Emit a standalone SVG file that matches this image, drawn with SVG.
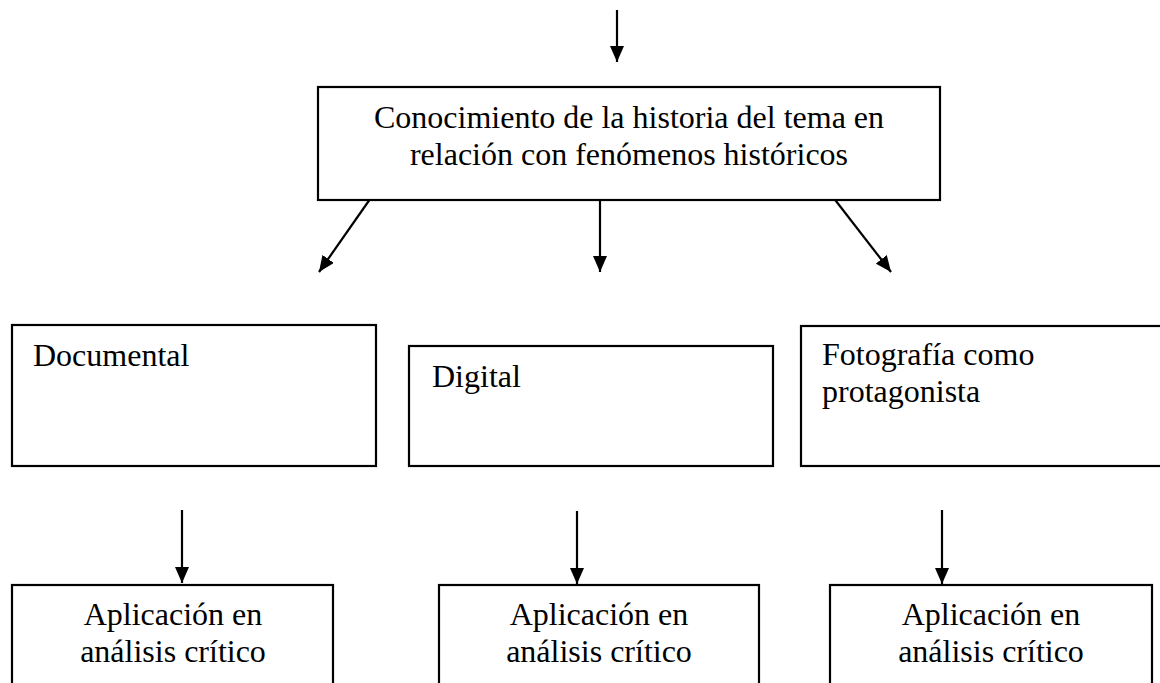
<svg xmlns="http://www.w3.org/2000/svg" width="1160" height="683" viewBox="0 0 1160 683">
<defs>
<style>
.box{fill:#fff;stroke:#000;stroke-width:2.2}
.t{font-family:"Liberation Serif","Times New Roman",serif;font-size:32px;fill:#000}
.c{text-anchor:middle}
.ln{stroke:#000;stroke-width:2.2;fill:none}
</style>
<marker id="ah" viewBox="0 0 16 14" refX="16" refY="7" markerWidth="16" markerHeight="14" markerUnits="userSpaceOnUse" orient="auto">
<path d="M0,0 L16,7 L0,14 Z" fill="#000"/>
</marker>
</defs>
<rect width="1160" height="683" fill="#fff"/>
<g id="connectors">
<line class="ln" x1="617" y1="10" x2="617" y2="62" marker-end="url(#ah)"/>
<line class="ln" x1="375" y1="192" x2="319" y2="272" marker-end="url(#ah)"/>
<line class="ln" x1="600" y1="192" x2="600" y2="272" marker-end="url(#ah)"/>
<line class="ln" x1="829" y1="192" x2="891" y2="272" marker-end="url(#ah)"/>
<line class="ln" x1="182" y1="510" x2="182" y2="583" marker-end="url(#ah)"/>
<line class="ln" x1="577" y1="511" x2="577" y2="584" marker-end="url(#ah)"/>
<line class="ln" x1="942" y1="510" x2="942" y2="584" marker-end="url(#ah)"/>
</g>
<g id="top">
<rect class="box" x="318" y="87" width="622" height="113"/>
<text class="t c" x="629" y="128">Conocimiento de la historia del tema en</text>
<text class="t c" x="629" y="165">relación con fenómenos históricos</text>
</g>
<g id="documental">
<rect class="box" x="12" y="325" width="364" height="141"/>
<text class="t" x="33" y="366">Documental</text>
</g>
<g id="digital">
<rect class="box" x="409" y="346" width="364" height="120"/>
<text class="t" x="432" y="387">Digital</text>
</g>
<g id="fotografia">
<rect class="box" x="801" y="326" width="370" height="140"/>
<text class="t" x="822" y="365">Fotografía como</text>
<text class="t" x="822" y="402">protagonista</text>
</g>
<g id="aplic1">
<rect class="box" x="12" y="585" width="321" height="110"/>
<text class="t c" x="173" y="625">Aplicación en</text>
<text class="t c" x="173" y="662">análisis crítico</text>
</g>
<g id="aplic2">
<rect class="box" x="439" y="585" width="320" height="110"/>
<text class="t c" x="599" y="625">Aplicación en</text>
<text class="t c" x="599" y="662">análisis crítico</text>
</g>
<g id="aplic3">
<rect class="box" x="830" y="585" width="322" height="110"/>
<text class="t c" x="991" y="625">Aplicación en</text>
<text class="t c" x="991" y="662">análisis crítico</text>
</g>
</svg>
